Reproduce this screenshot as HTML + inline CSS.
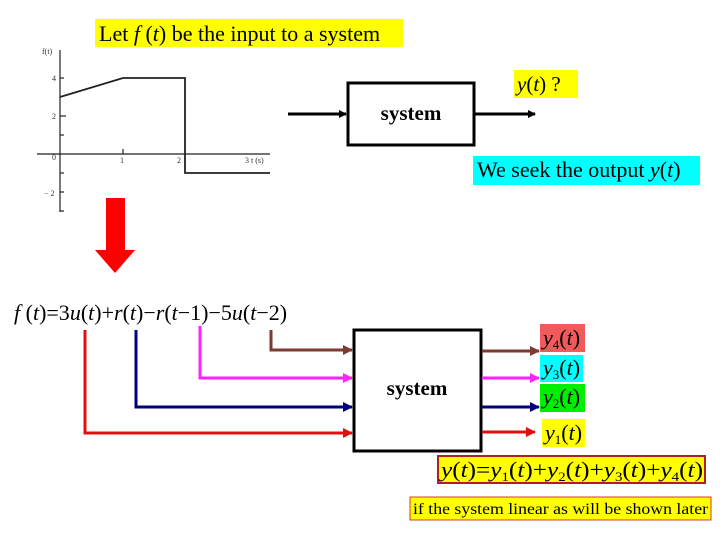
<!DOCTYPE html>
<html><head><style>
html,body{margin:0;padding:0;background:#fff;}
svg{display:block;}
text{font-family:"Liberation Serif",serif;}
</style></head><body>
<svg width="720" height="540" viewBox="0 0 720 540" xmlns="http://www.w3.org/2000/svg">
<defs>
<marker id="ak" markerWidth="8" markerHeight="8" refX="7" refY="4" orient="auto" markerUnits="userSpaceOnUse"><path d="M0,0 L8,4 L0,8z" fill="#000"/></marker>
<marker id="ab" markerWidth="10" markerHeight="10" refX="9" refY="5" orient="auto" markerUnits="userSpaceOnUse"><path d="M0,0 L10,5 L0,10z" fill="#7b3a32"/></marker>
<marker id="am" markerWidth="10" markerHeight="10" refX="9" refY="5" orient="auto" markerUnits="userSpaceOnUse"><path d="M0,0 L10,5 L0,10z" fill="#ff22ff"/></marker>
<marker id="an" markerWidth="10" markerHeight="10" refX="9" refY="5" orient="auto" markerUnits="userSpaceOnUse"><path d="M0,0 L10,5 L0,10z" fill="#000080"/></marker>
<marker id="ar" markerWidth="10" markerHeight="10" refX="9" refY="5" orient="auto" markerUnits="userSpaceOnUse"><path d="M0,0 L10,5 L0,10z" fill="#e01010"/></marker>
</defs>
<!-- title -->
<rect x="95" y="19" width="308" height="28" fill="#ffff00"/>
<text x="99" y="41" font-size="22">Let <tspan font-style="italic">f</tspan> (<tspan font-style="italic">t</tspan>) be the input to a system</text>
<!-- graph -->
<g stroke="#222" stroke-width="1.2" fill="none">
<line x1="60" y1="50" x2="60" y2="212"/>
<line x1="37" y1="154" x2="270" y2="154"/>
<line x1="60" y1="78" x2="64" y2="78"/><line x1="60" y1="116" x2="66" y2="116"/><line x1="60" y1="135" x2="64" y2="135"/><line x1="60" y1="173" x2="64" y2="173"/><line x1="60" y1="192" x2="64" y2="192"/><line x1="60" y1="211" x2="64" y2="211"/>
<line x1="123" y1="149" x2="123" y2="154"/>
</g>
<polyline points="60,97 123,78 185,78 185,173 270,173" stroke="#222" stroke-width="1.8" fill="none"/>
<g font-size="8" fill="#333">
<text x="42" y="54">f(t)</text><text x="52" y="81">4</text><text x="52" y="119">2</text><text x="52" y="160">0</text><text x="120" y="163">1</text><text x="177" y="163">2</text><text x="245" y="163">3  t (s)</text><text x="44" y="196">− 2</text>
</g>
<!-- top system -->
<rect x="348" y="83" width="126" height="62" fill="#fff" stroke="#000" stroke-width="3"/>
<text x="411" y="120" font-size="21" font-weight="bold" text-anchor="middle">system</text>
<line x1="288" y1="114" x2="346" y2="114" stroke="#000" stroke-width="3" marker-end="url(#ak)"/>
<line x1="475" y1="114" x2="535" y2="114" stroke="#000" stroke-width="3" marker-end="url(#ak)"/>
<rect x="514" y="70" width="64" height="28" fill="#ffff00"/>
<text x="517" y="91" font-size="21"><tspan font-style="italic">y</tspan>(<tspan font-style="italic">t</tspan>)  ?</text>
<rect x="473" y="156" width="227" height="29" fill="#00ffff"/>
<text x="477" y="177" font-size="22">We seek the output <tspan font-style="italic">y</tspan>(<tspan font-style="italic">t</tspan>)</text>
<!-- red down arrow -->
<path d="M106,198 H125 V250 H135 L115,273 L95,250 H106 Z" fill="#ff0000"/>
<!-- equation -->
<text x="14" y="320" font-size="22"><tspan font-style="italic">f</tspan> (<tspan font-style="italic">t</tspan>)=3<tspan font-style="italic">u</tspan>(<tspan font-style="italic">t</tspan>)+<tspan font-style="italic">r</tspan>(<tspan font-style="italic">t</tspan>)−<tspan font-style="italic">r</tspan>(<tspan font-style="italic">t</tspan>−1)−5<tspan font-style="italic">u</tspan>(<tspan font-style="italic">t</tspan>−2)</text>
<!-- wires -->
<polyline points="271,330 271,350 352,350" fill="none" stroke="#7b3a32" stroke-width="3" marker-end="url(#ab)"/>
<polyline points="200,326 200,378 352,378" fill="none" stroke="#ff22ff" stroke-width="3" marker-end="url(#am)"/>
<polyline points="136,330 136,407 352,407" fill="none" stroke="#000080" stroke-width="3" marker-end="url(#an)"/>
<polyline points="85,330 85,433 352,433" fill="none" stroke="#e01010" stroke-width="3" marker-end="url(#ar)"/>
<!-- system 2 -->
<rect x="354" y="330" width="127" height="121" fill="#fff" stroke="#000" stroke-width="3"/>
<text x="417" y="395" font-size="21" font-weight="bold" text-anchor="middle">system</text>
<line x1="482" y1="351" x2="539" y2="351" stroke="#7b3a32" stroke-width="3" marker-end="url(#ab)"/>
<line x1="482" y1="378" x2="539" y2="378" stroke="#ff22ff" stroke-width="3" marker-end="url(#am)"/>
<line x1="482" y1="407" x2="539" y2="407" stroke="#000080" stroke-width="3" marker-end="url(#an)"/>
<line x1="482" y1="432" x2="535" y2="432" stroke="#e01010" stroke-width="3" marker-end="url(#ar)"/>
<rect x="540" y="324" width="45" height="28" fill="#f05a5a"/>
<text x="543" y="345" font-size="22"><tspan font-style="italic">y</tspan><tspan font-size="13" dy="4">4</tspan><tspan dy="-4">(</tspan><tspan font-style="italic">t</tspan>)</text>
<rect x="540" y="355" width="43" height="27" fill="#00ffff"/>
<text x="543" y="375" font-size="22"><tspan font-style="italic">y</tspan><tspan font-size="13" dy="4">3</tspan><tspan dy="-4">(</tspan><tspan font-style="italic">t</tspan>)</text>
<rect x="540" y="384" width="45" height="28" fill="#00ee00"/>
<text x="543" y="404" font-size="22"><tspan font-style="italic">y</tspan><tspan font-size="13" dy="4">2</tspan><tspan dy="-4">(</tspan><tspan font-style="italic">t</tspan>)</text>
<rect x="542" y="419" width="43" height="28" fill="#ffff00"/>
<text x="545" y="440" font-size="22"><tspan font-style="italic">y</tspan><tspan font-size="13" dy="4">1</tspan><tspan dy="-4">(</tspan><tspan font-style="italic">t</tspan>)</text>
<!-- sum -->
<rect x="438" y="456" width="267" height="27" fill="#ffff00" stroke="#b02020" stroke-width="2"/>
<text x="441" y="477" font-size="22" textLength="262" lengthAdjust="spacingAndGlyphs"><tspan font-style="italic">y</tspan>(<tspan font-style="italic">t</tspan>)=<tspan font-style="italic">y</tspan><tspan font-size="13" dy="4">1</tspan><tspan dy="-4">(</tspan><tspan font-style="italic">t</tspan>)+<tspan font-style="italic">y</tspan><tspan font-size="13" dy="4">2</tspan><tspan dy="-4">(</tspan><tspan font-style="italic">t</tspan>)+<tspan font-style="italic">y</tspan><tspan font-size="13" dy="4">3</tspan><tspan dy="-4">(</tspan><tspan font-style="italic">t</tspan>)+<tspan font-style="italic">y</tspan><tspan font-size="13" dy="4">4</tspan><tspan dy="-4">(</tspan><tspan font-style="italic">t</tspan>)</text>
<rect x="410" y="497" width="301" height="23" fill="#ffff00" stroke="#d04020" stroke-width="1"/>
<text x="413" y="514" font-size="16" textLength="295" lengthAdjust="spacingAndGlyphs">if the system linear as will be shown later</text>
</svg>
</body></html>
